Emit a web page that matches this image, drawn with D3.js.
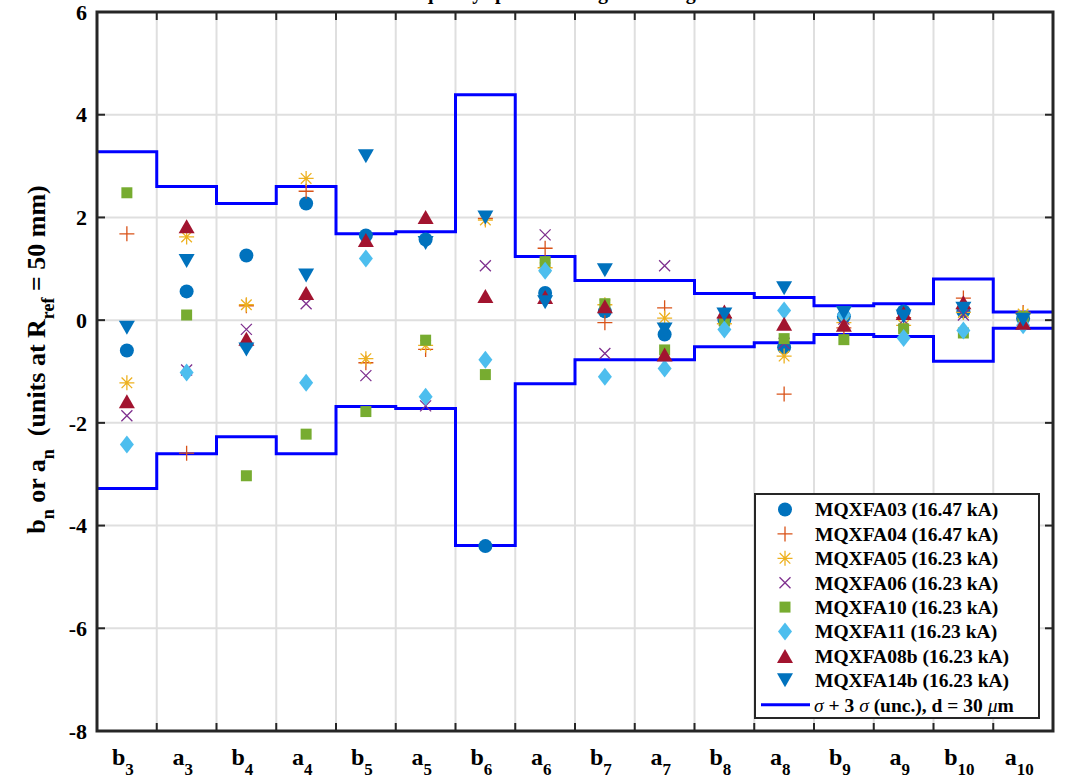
<!DOCTYPE html>
<html>
<head>
<meta charset="utf-8">
<script src="https://cdn.jsdelivr.net/npm/d3@7"></script>
<style>
  body { margin: 0; background: #fff; }
  svg { display: block; font-family: "Liberation Serif", "Times New Roman", serif; font-weight: bold; }
</style>
</head>
<body>
<svg id="chart" width="1068" height="783"></svg>
<script>
// Harmonic labels (letter + order)
const HARMONICS = [
  ['b', 3], ['a', 3], ['b', 4], ['a', 4], ['b', 5], ['a', 5], ['b', 6], ['a', 6],
  ['b', 7], ['a', 7], ['b', 8], ['a', 8], ['b', 9], ['a', 9], ['b', 10], ['a', 10]
];
const Y_TICKS = [-8, -6, -4, -2, 0, 2, 4, 6];

// Measured values per magnet, in harmonic order
const MQXFA03 = [-0.59, 0.56, 1.26, 2.27, 1.65, 1.57, -4.40, 0.53, 0.17, -0.28, 0.01, -0.53, 0.07, 0.17, 0.17, 0.03];
const MQXFA04 = [1.68, -2.59, 0.28, 2.51, -0.83, -0.57, 1.98, 1.40, -0.05, 0.24, 0.05, -1.44, -0.15, 0.05, 0.43, 0.15];
const MQXFA05 = [-1.22, 1.62, 0.30, 2.76, -0.75, -0.49, 1.95, 1.02, 0.30, 0.04, -0.07, -0.70, -0.05, -0.10, 0.15, 0.12];
const MQXFA06 = [-1.86, -0.97, -0.18, 0.32, -1.08, -1.67, 1.06, 1.66, -0.65, 1.06, 0.00, -0.45, 0.02, 0.00, 0.10, 0.00];
const MQXFA10 = [2.48, 0.10, -3.03, -2.22, -1.78, -0.39, -1.06, 1.14, 0.32, -0.58, -0.02, -0.36, -0.38, -0.17, -0.25, 0.07];
const MQXFA11 = [-2.42, -1.02, -0.50, -1.22, 1.20, -1.49, -0.77, 0.96, -1.10, -0.94, -0.18, 0.19, 0.10, -0.35, -0.20, -0.10];
const MQXFA08b = [-1.58, 1.83, -0.36, 0.53, 1.56, 2.01, 0.47, 0.45, 0.27, -0.67, 0.17, -0.07, -0.09, 0.14, 0.35, -0.05];
const MQXFA14b = [-0.15, 1.15, -0.57, 0.87, 3.19, 1.50, 2.00, 0.35, 0.97, -0.18, 0.11, 0.62, 0.14, 0.07, 0.22, 0.01];
// sigma + 3 sigma band
const SIGMA = [3.28, 2.60, 2.27, 2.60, 1.68, 1.72, 4.39, 1.24, 0.77, 0.77, 0.52, 0.44, 0.28, 0.32, 0.80, 0.16];

const SERIES = [
  {name: 'MQXFA03 (16.47 kA)', values: MQXFA03, marker: 'circle', color: '#0072BD'},
  {name: 'MQXFA04 (16.47 kA)', values: MQXFA04, marker: 'plus', color: '#D95319'},
  {name: 'MQXFA05 (16.23 kA)', values: MQXFA05, marker: 'star', color: '#EDB120'},
  {name: 'MQXFA06 (16.23 kA)', values: MQXFA06, marker: 'cross', color: '#7E2F8E'},
  {name: 'MQXFA10 (16.23 kA)', values: MQXFA10, marker: 'square', color: '#77AC30'},
  {name: 'MQXFA11 (16.23 kA)', values: MQXFA11, marker: 'diamond', color: '#4DBEEE'},
  {name: 'MQXFA08b (16.23 kA)', values: MQXFA08b, marker: 'up', color: '#A2142F'},
  {name: 'MQXFA14b (16.23 kA)', values: MQXFA14b, marker: 'down', color: '#0072BD'}
];

// Layout
const plot = {left: 97, right: 1053, top: 12, bottom: 731};
const axisColor = '#262626';
const gridColor = '#dfdfdf';

const x = d3.scaleLinear([0.5, HARMONICS.length + 0.5], [plot.left, plot.right]);
const y = d3.scaleLinear([-8, 6], [plot.bottom, plot.top]);

const svg = d3.select('#chart');

// marker shapes, in pixels around (0,0)
const markerPath = {
  circle: 'M7,0A7,7 0 1,1 -7,0A7,7 0 1,1 7,0Z',
  square: 'M-5.5,-5.5H5.5V5.5H-5.5Z',
  diamond: 'M0,-9L7,0L0,9L-7,0Z',
  up: 'M0,-7L8,7L-8,7Z',
  down: 'M0,7L8,-7L-8,-7Z',
  plus: 'M-7.5,0H7.5M0,-7.5V7.5',
  cross: 'M-5.5,-5.5L5.5,5.5M-5.5,5.5L5.5,-5.5',
  star: 'M-7.5,0H7.5M0,-7.5V7.5M-5.3,-5.3L5.3,5.3M-5.3,5.3L5.3,-5.3'
};
const isLine = m => m === 'plus' || m === 'cross' || m === 'star';

const drawMarker = (sel, s) => {
  sel.append('path')
    .attr('d', markerPath[s.marker])
    .attr('fill', isLine(s.marker) ? 'none' : s.color)
    .attr('stroke', s.color)
    .attr('stroke-width', isLine(s.marker) ? 1.3 : 0);
};

// Title (mostly outside the picture, as in the original)
svg.append('text')
  .attr('x', (plot.left + plot.right) / 2)
  .attr('y', -1)
  .attr('text-anchor', 'middle')
  .attr('font-size', 20)
  .attr('fill', '#000')
  .text('Field quality spread of magnets at high current');

// Grid
const xBounds = d3.range(1.5, HARMONICS.length, 1);
svg.append('g')
  .selectAll('line')
  .data(xBounds).enter()
  .append('line')
    .attr('x1', d => x(d)).attr('x2', d => x(d))
    .attr('y1', plot.top).attr('y2', plot.bottom)
    .attr('stroke', gridColor).attr('stroke-width', 2);
svg.append('g')
  .selectAll('line')
  .data(Y_TICKS.slice(1, -1)).enter()
  .append('line')
    .attr('x1', plot.left).attr('x2', plot.right)
    .attr('y1', d => y(d)).attr('y2', d => y(d))
    .attr('stroke', gridColor).attr('stroke-width', 2);

// Ticks (inward, both sides)
const tickLen = 8;
const ticks = svg.append('g').attr('stroke', axisColor).attr('stroke-width', 2);
xBounds.forEach(d => {
  ticks.append('line').attr('x1', x(d)).attr('x2', x(d)).attr('y1', plot.bottom).attr('y2', plot.bottom - tickLen);
  ticks.append('line').attr('x1', x(d)).attr('x2', x(d)).attr('y1', plot.top).attr('y2', plot.top + tickLen);
});
Y_TICKS.forEach(d => {
  ticks.append('line').attr('x1', plot.left).attr('x2', plot.left + tickLen).attr('y1', y(d)).attr('y2', y(d));
  ticks.append('line').attr('x1', plot.right).attr('x2', plot.right - tickLen).attr('y1', y(d)).attr('y2', y(d));
});

// Sigma band as stairs
const stairs = SIGMA.map((s, i) => [i + 0.5, s]).concat([[HARMONICS.length + 0.5, SIGMA[SIGMA.length - 1]]]);
const stepLine = d3.line()
  .x(d => x(d[0]))
  .y(d => y(d[1]))
  .curve(d3.curveStepAfter);
[1, -1].forEach(sign => {
  svg.append('path')
    .datum(stairs.map(d => [d[0], sign * d[1]]))
    .attr('fill', 'none')
    .attr('stroke', '#0000FF')
    .attr('stroke-width', 3)
    .attr('d', stepLine);
});

// Markers
SERIES.forEach(s => {
  svg.append('g')
    .selectAll('g')
    .data(s.values).enter()
    .append('g')
      .attr('transform', (d, i) => `translate(${x(i + 1)},${y(d)})`)
      .each(function () { drawMarker(d3.select(this), s); });
});

// Axes box
svg.append('rect')
  .attr('x', plot.left).attr('y', plot.top)
  .attr('width', plot.right - plot.left).attr('height', plot.bottom - plot.top)
  .attr('fill', 'none')
  .attr('stroke', axisColor)
  .attr('stroke-width', 3);

// Y tick labels
svg.append('g')
  .selectAll('text')
  .data(Y_TICKS).enter()
  .append('text')
    .attr('x', 87)
    .attr('y', d => y(d))
    .attr('dy', '0.35em')
    .attr('text-anchor', 'end')
    .attr('font-size', 22)
    .attr('fill', '#000')
    .text(d => d);

// X category labels with subscripts
const xl = svg.append('g')
  .selectAll('text')
  .data(HARMONICS).enter()
  .append('text')
    .attr('x', (d, i) => x(i + 1) - 4)
    .attr('y', 765)
    .attr('text-anchor', 'middle')
    .attr('font-size', 24)
    .attr('fill', '#000');
xl.append('tspan').text(d => d[0]);
xl.append('tspan').attr('font-size', 17).attr('dy', 10).text(d => d[1]);

// Y axis label
const yl = svg.append('text')
  .attr('transform', `translate(45, ${(plot.top + plot.bottom) / 2 - 12}) rotate(-90)`)
  .attr('text-anchor', 'middle')
  .attr('font-size', 26)
  .attr('fill', '#000');
yl.append('tspan').text('b');
yl.append('tspan').attr('font-size', 18).attr('dy', 9).text('n');
yl.append('tspan').attr('dy', -9).text(' or a');
yl.append('tspan').attr('font-size', 18).attr('dy', 9).text('n');
yl.append('tspan').attr('dy', -9).text('\u00a0 (units at R');
yl.append('tspan').attr('font-size', 18).attr('dy', 9).text('ref');
yl.append('tspan').attr('dy', -9).text(' = 50 mm)');

// Legend
const legend = {left: 755, top: 494, width: 284, height: 224, row: 24.4, first: 509.5};
svg.append('rect')
  .attr('x', legend.left).attr('y', legend.top)
  .attr('width', legend.width).attr('height', legend.height)
  .attr('fill', '#fff')
  .attr('stroke', axisColor)
  .attr('stroke-width', 2);
const rows = svg.append('g')
  .selectAll('g')
  .data(SERIES).enter()
  .append('g')
    .attr('transform', (d, i) => `translate(0,${legend.first + i * legend.row})`);
rows.append('g')
  .attr('transform', 'translate(785,0)')
  .each(function (s) { drawMarker(d3.select(this), s); });
rows.append('text')
  .attr('x', 815)
  .attr('dy', '0.35em')
  .attr('font-size', 19.5)
  .attr('fill', '#000')
  .text(d => d.name);

const bandY = legend.first + SERIES.length * legend.row;
svg.append('line')
  .attr('x1', 761).attr('x2', 810)
  .attr('y1', bandY).attr('y2', bandY)
  .attr('stroke', '#0000FF').attr('stroke-width', 3);
const bt = svg.append('text')
  .attr('x', 814).attr('y', bandY).attr('dy', '0.35em')
  .attr('font-size', 19.5).attr('fill', '#000');
bt.append('tspan').attr('font-style', 'italic').attr('font-weight', 'normal').text('σ');
bt.append('tspan').text(' + 3 ');
bt.append('tspan').attr('font-style', 'italic').attr('font-weight', 'normal').text('σ');
bt.append('tspan').text(' (unc.), d = 30 ');
bt.append('tspan').attr('font-style', 'italic').attr('font-weight', 'normal').text('μ');
bt.append('tspan').text('m');
</script>
</body>
</html>
